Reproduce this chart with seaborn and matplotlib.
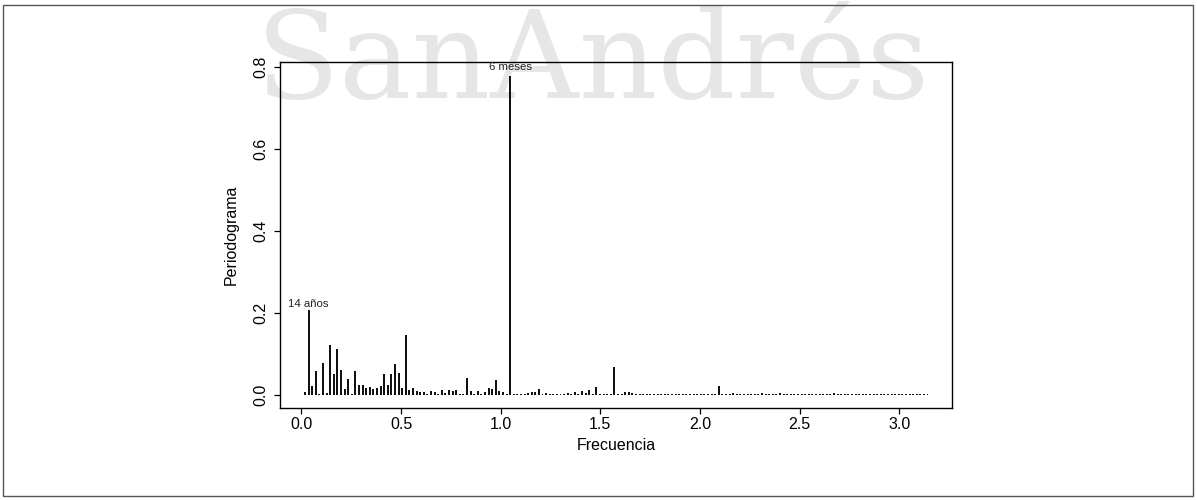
import numpy as np
import matplotlib
matplotlib.use("Agg")
import matplotlib.pyplot as plt
import seaborn as sns
from matplotlib.ticker import FormatStrFormatter
from matplotlib.patches import Rectangle

# ---------------- data ----------------
n_obs = 348                      # monthly observations
harmonic = np.arange(1, 175)     # Fourier harmonics k = 1 .. n/2
frequency = 2 * np.pi * harmonic / n_obs

periodogram = [
    0.007, 0.207, 0.022, 0.060, 0.003, 0.078, 0.005, 0.122, 0.052, 0.112,
    0.062, 0.016, 0.040, 0.003, 0.060, 0.024, 0.025, 0.018, 0.020, 0.016,
    0.018, 0.022, 0.051, 0.026, 0.051, 0.076, 0.054, 0.017, 0.146, 0.012,
    0.018, 0.010, 0.008, 0.008, 0.003, 0.010, 0.008, 0.003, 0.012, 0.006,
    0.014, 0.011, 0.012, 0.004, 0.003, 0.041, 0.011, 0.004, 0.010, 0.004,
    0.007, 0.017, 0.015, 0.037, 0.010, 0.008, 0.003, 0.779, 0.002, 0.004,
    0.003, 0.002, 0.006, 0.008, 0.009, 0.016, 0.003, 0.005, 0.003, 0.004,
    0.002, 0.003, 0.002, 0.005, 0.003, 0.007, 0.003, 0.010, 0.005, 0.012,
    0.003, 0.020, 0.003, 0.002, 0.002, 0.002, 0.068, 0.002, 0.003, 0.008,
    0.008, 0.006, 0.003, 0.002, 0.003, 0.002, 0.002, 0.003, 0.002, 0.002,
    0.003, 0.002, 0.002, 0.002, 0.003, 0.002, 0.002, 0.003, 0.002, 0.002,
    0.003, 0.002, 0.002, 0.003, 0.002, 0.022, 0.004, 0.002, 0.002, 0.006,
    0.002, 0.003, 0.002, 0.004, 0.002, 0.002, 0.003, 0.005, 0.002, 0.002,
    0.003, 0.002, 0.005, 0.002, 0.003, 0.002, 0.002, 0.003, 0.002, 0.003,
    0.004, 0.002, 0.002, 0.003, 0.002, 0.002, 0.003, 0.006, 0.002, 0.002,
    0.003, 0.002, 0.003, 0.002, 0.002, 0.004, 0.004, 0.003, 0.002, 0.003,
    0.002, 0.002, 0.003, 0.002, 0.003, 0.004, 0.002, 0.002, 0.003, 0.002,
    0.002, 0.003, 0.002, 0.002,
]

annot_harmonics = [2, 58]
annot_labels = ["14 años", "6 meses"]
annot_offsets = [2.5, 4.5]   # points above bar top

x_ticks = [0.0, 0.5, 1.0, 1.5, 2.0, 2.5, 3.0]
y_ticks = [0.0, 0.2, 0.4, 0.6, 0.8]
x_label = "Frecuencia"
y_label = "Periodograma"
watermark = "SanAndrés"

# ---------------- style ----------------
sns.set_style("ticks")
plt.rcParams["font.family"] = ["Liberation Sans", "DejaVu Sans"]

fig = plt.figure(figsize=(11.97, 5.0), dpi=100)
fig.patch.set_facecolor("white")

# watermark behind everything
fig.text(256 / 1197, 1 - 98 / 500, watermark, family="DejaVu Serif",
         fontsize=88, color="#e6e6e6", ha="left", va="baseline", zorder=-5)

# outer frame
fig.add_artist(Rectangle((3 / 1197, 4 / 500), 1190 / 1197, 491 / 500,
                         transform=fig.transFigure, fill=False,
                         edgecolor="#555555", linewidth=1.0))

ax = fig.add_axes([280.3 / 1197, 1 - 407.7 / 500, 672 / 1197, 345.4 / 500])
ax.set_facecolor("none")

sns.barplot(x=frequency, y=periodogram, native_scale=True, color="#111111",
            saturation=1, width=0.55, errorbar=None, linewidth=0, ax=ax)

for k, lab, off in zip(annot_harmonics, annot_labels, annot_offsets):
    ax.annotate(lab, xy=(frequency[k - 1], periodogram[k - 1]),
                xytext=(0, off), textcoords="offset points",
                ha="center", va="baseline", fontsize=8.2, color="#222222")

ax.set_xlim(-0.106, 3.266)
ax.set_ylim(-0.0302, 0.812)
ax.set_xticks(x_ticks)
ax.set_yticks(y_ticks)
ax.xaxis.set_major_formatter(FormatStrFormatter("%.1f"))
ax.yaxis.set_major_formatter(FormatStrFormatter("%.1f"))

for s in ax.spines.values():
    s.set_visible(True)
    s.set_color("black")
    s.set_linewidth(1.0)

ax.tick_params(axis="both", direction="out", length=4.4, width=0.9,
               color="black", labelsize=11.5, labelcolor="black")
ax.tick_params(axis="x", pad=2.5)
ax.tick_params(axis="y", pad=4.5)
for t in ax.get_yticklabels():
    t.set_rotation(90)
    t.set_va("center")

ax.set_xlabel(x_label, fontsize=11.5, color="black")
ax.set_ylabel(y_label, fontsize=11.5, color="black")
ax.xaxis.set_label_coords(0.5, -0.088)
ax.yaxis.set_label_coords(-0.062, 0.5)

fig.savefig("out.png", dpi=100)
